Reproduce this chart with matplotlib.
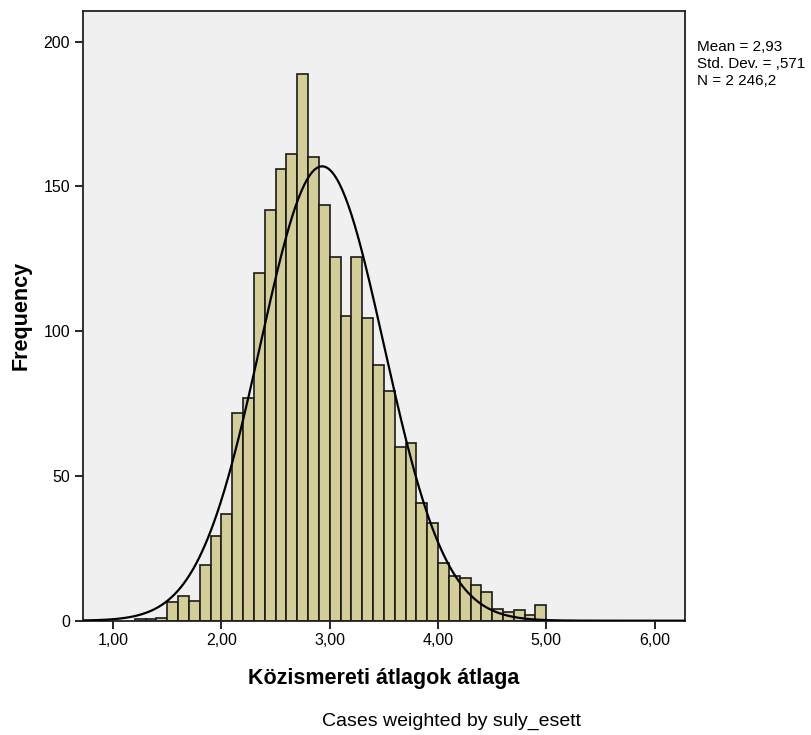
import numpy as np
import matplotlib.pyplot as plt

plt.rcParams['font.family'] = ['Liberation Sans', 'DejaVu Sans']

# bin left edges (width 0.1) and weighted counts
bin_left = [1.2, 1.3, 1.4, 1.5, 1.6, 1.7, 1.8, 1.9, 2.0, 2.1, 2.2, 2.3, 2.4,
            2.5, 2.6, 2.7, 2.8, 2.9, 3.0, 3.1, 3.2, 3.3, 3.4, 3.5, 3.6, 3.7,
            3.8, 3.9, 4.0, 4.1, 4.2, 4.3, 4.4, 4.5, 4.6, 4.7, 4.8, 4.9]
counts = [0.7, 0.7, 1.0, 6.5, 8.5, 6.8, 19.3, 29.1, 36.7, 71.9, 76.9, 120.2,
          141.9, 156.0, 161.3, 188.8, 160.1, 143.6, 125.6, 105.2, 125.6,
          104.5, 88.3, 79.2, 60.0, 61.5, 40.7, 33.6, 19.8, 15.4, 14.9, 12.3,
          9.9, 4.0, 2.9, 3.6, 1.9, 5.5]
bin_width = 0.1

mean = 2.93
std = 0.571
n = 2246.2

x_ticks = [1, 2, 3, 4, 5, 6]
x_labels = ["1,00", "2,00", "3,00", "4,00", "5,00", "6,00"]
y_ticks = [0, 50, 100, 150, 200]

fig = plt.figure(figsize=(8.11, 7.35), dpi=100)
ax = fig.add_axes([0.102, 0.1555, 0.7426, 0.83])
ax.set_facecolor('#F0F0F0')

ax.bar(bin_left, counts, width=bin_width, align='edge', color='#D3CE97',
       edgecolor='#1a1a1a', linewidth=1.2, zorder=2)

# normal curve from the reported mean / sd / N
xs = np.linspace(0.72, 6.28, 400)
curve = n * bin_width / (std * np.sqrt(2 * np.pi)) * np.exp(-0.5 * ((xs - mean) / std) ** 2)
ax.plot(xs, curve, color='black', linewidth=1.6, zorder=3)

ax.set_xlim(0.72, 6.28)
ax.set_ylim(0, 210.7)
ax.set_xticks(x_ticks)
ax.set_xticklabels(x_labels)
ax.set_yticks(y_ticks)
ax.tick_params(direction='out', length=6, width=1.2, labelsize=11.5, colors='black', pad=3)
for sp in ax.spines.values():
    sp.set_linewidth(1.3)
    sp.set_color('#222222')

ax.set_xlabel('Közismereti átlagok átlaga', fontsize=15.5, fontweight='bold', labelpad=14)
ax.set_ylabel('Frequency', fontsize=15.5, fontweight='bold')
ax.yaxis.set_label_coords(-0.085, 0.5)

fig.text(0.859, 0.945, 'Mean = 2,93\nStd. Dev. = ,571\nN = 2 246,2',
         fontsize=11, va='top', ha='left', linespacing=1.25)
fig.text(0.557, 0.012, 'Cases weighted by suly_esett', fontsize=14,
         ha='center', va='baseline')

fig.savefig('out.png', dpi=100)
